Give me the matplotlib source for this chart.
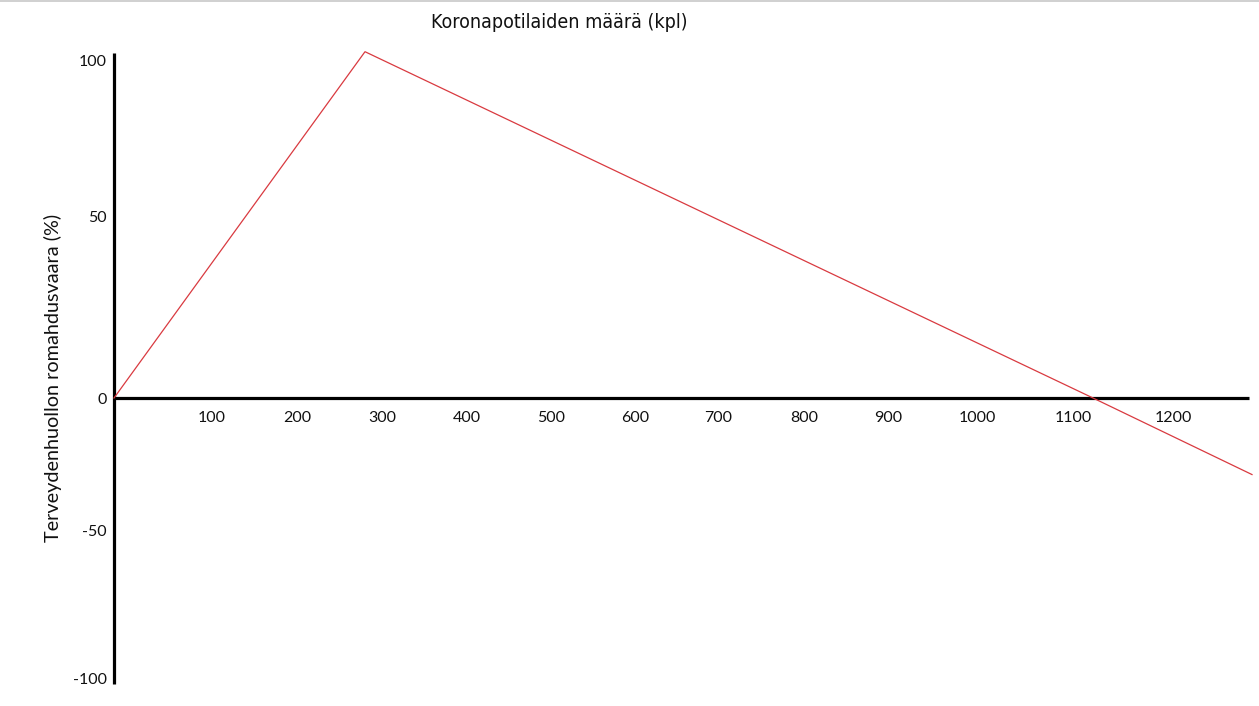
import numpy as np
import matplotlib
matplotlib.use("Agg")
import matplotlib.pyplot as plt
from matplotlib.lines import Line2D

# ---- data ----
x_ticks = [100, 200, 300, 400, 500, 600, 700, 800, 900, 1000, 1100, 1200]
x_tick_labels = [str(v) for v in x_ticks]
y_ticks = [-100, -50, 0, 50, 100]
y_tick_labels = ["-100", "-50", "0", "50", "100"]
patients = [0, 280, 1120, 1279]
risk = [0, 103, 0, -29]

title = "Koronapotilaiden määrä (kpl)"
ylabel = "Terveydenhuollon romahdusvaara (%)"

# ---- hand-drawn (non-uniform) axis scales: value -> pixel anchors ----
x_anchor_val = [0] + x_ticks
x_anchor_pix = [114, 212, 297, 382, 467, 551, 635, 718, 804, 888, 977, 1073, 1173]
y_anchor_val = y_ticks
y_anchor_pix = [-679, -530, -398, -216, -61]


def piecewise(d, p):
    d = np.asarray(d, float)
    p = np.asarray(p, float)
    s0 = (p[1] - p[0]) / (d[1] - d[0])
    s1 = (p[-1] - p[-2]) / (d[-1] - d[-2])

    def f(v):
        v = np.asarray(v, float)
        shp = v.shape
        v = np.atleast_1d(v)
        out = np.interp(v, d, p)
        lo = v < d[0]
        hi = v > d[-1]
        out[lo] = p[0] + (v[lo] - d[0]) * s0
        out[hi] = p[-1] + (v[hi] - d[-1]) * s1
        return out.reshape(shp)
    return f


fx = piecewise(x_anchor_val, x_anchor_pix)
ix = piecewise(x_anchor_pix, x_anchor_val)
fy = piecewise(y_anchor_val, y_anchor_pix)
iy = piecewise(y_anchor_pix, y_anchor_val)

W, H = 1259, 706
fig = plt.figure(figsize=(W / 100, H / 100), dpi=100)
ax = fig.add_axes([0, 0, 1, 1])
ax.set_xscale("function", functions=(fx, ix))
ax.set_yscale("function", functions=(fy, iy))
ax.set_xlim(float(ix(0.0)), float(ix(float(W))))
ax.set_ylim(float(iy(-float(H))), float(iy(0.0)))
ax.patch.set_alpha(0)

ax.plot(patients, risk, color="#d93a40", lw=0.9, solid_joinstyle="miter", zorder=3)

for s in ("top", "right"):
    ax.spines[s].set_visible(False)
ax.spines["left"].set_position(("data", 0))
ax.spines["bottom"].set_position(("data", 0))
ax.spines["left"].set_bounds(float(iy(-684.0)), float(iy(-53.0)))
ax.spines["bottom"].set_bounds(0, float(ix(1249.0)))
for s in ("left", "bottom"):
    ax.spines[s].set_linewidth(2.3)
    ax.spines[s].set_color("black")
    ax.spines[s].set_capstyle("butt")

ax.set_xticks(x_ticks)
ax.set_xticklabels(x_tick_labels)
ax.set_yticks(y_ticks)
ax.set_yticklabels(y_tick_labels)
ax.xaxis.set_minor_locator(matplotlib.ticker.NullLocator())
ax.yaxis.set_minor_locator(matplotlib.ticker.NullLocator())
ax.tick_params(axis="x", length=0, pad=9.5, labelsize=11.5)
ax.tick_params(axis="y", length=0, pad=5, labelsize=11.5)
for lab in ax.get_xticklabels() + ax.get_yticklabels():
    lab.set_fontfamily(["Lato", "DejaVu Sans"])
    lab.set_color("#111111")

fig.text(559 / W, 1 - 22 / H, title, ha="center", va="center",
         fontsize=14, family=["DejaVu Sans"], fontstretch="condensed", color="#111111")
fig.text(53 / W, 1 - 378 / H, ylabel, ha="center", va="center", rotation=90,
         fontsize=14.3, family=["Lato", "DejaVu Sans"], color="#111111")

fig.add_artist(Line2D([0, 1], [1 - 0.5 / H, 1 - 0.5 / H], transform=fig.transFigure,
                      color="#c8c8c8", lw=1.2))

fig.savefig("out.png", dpi=100)
